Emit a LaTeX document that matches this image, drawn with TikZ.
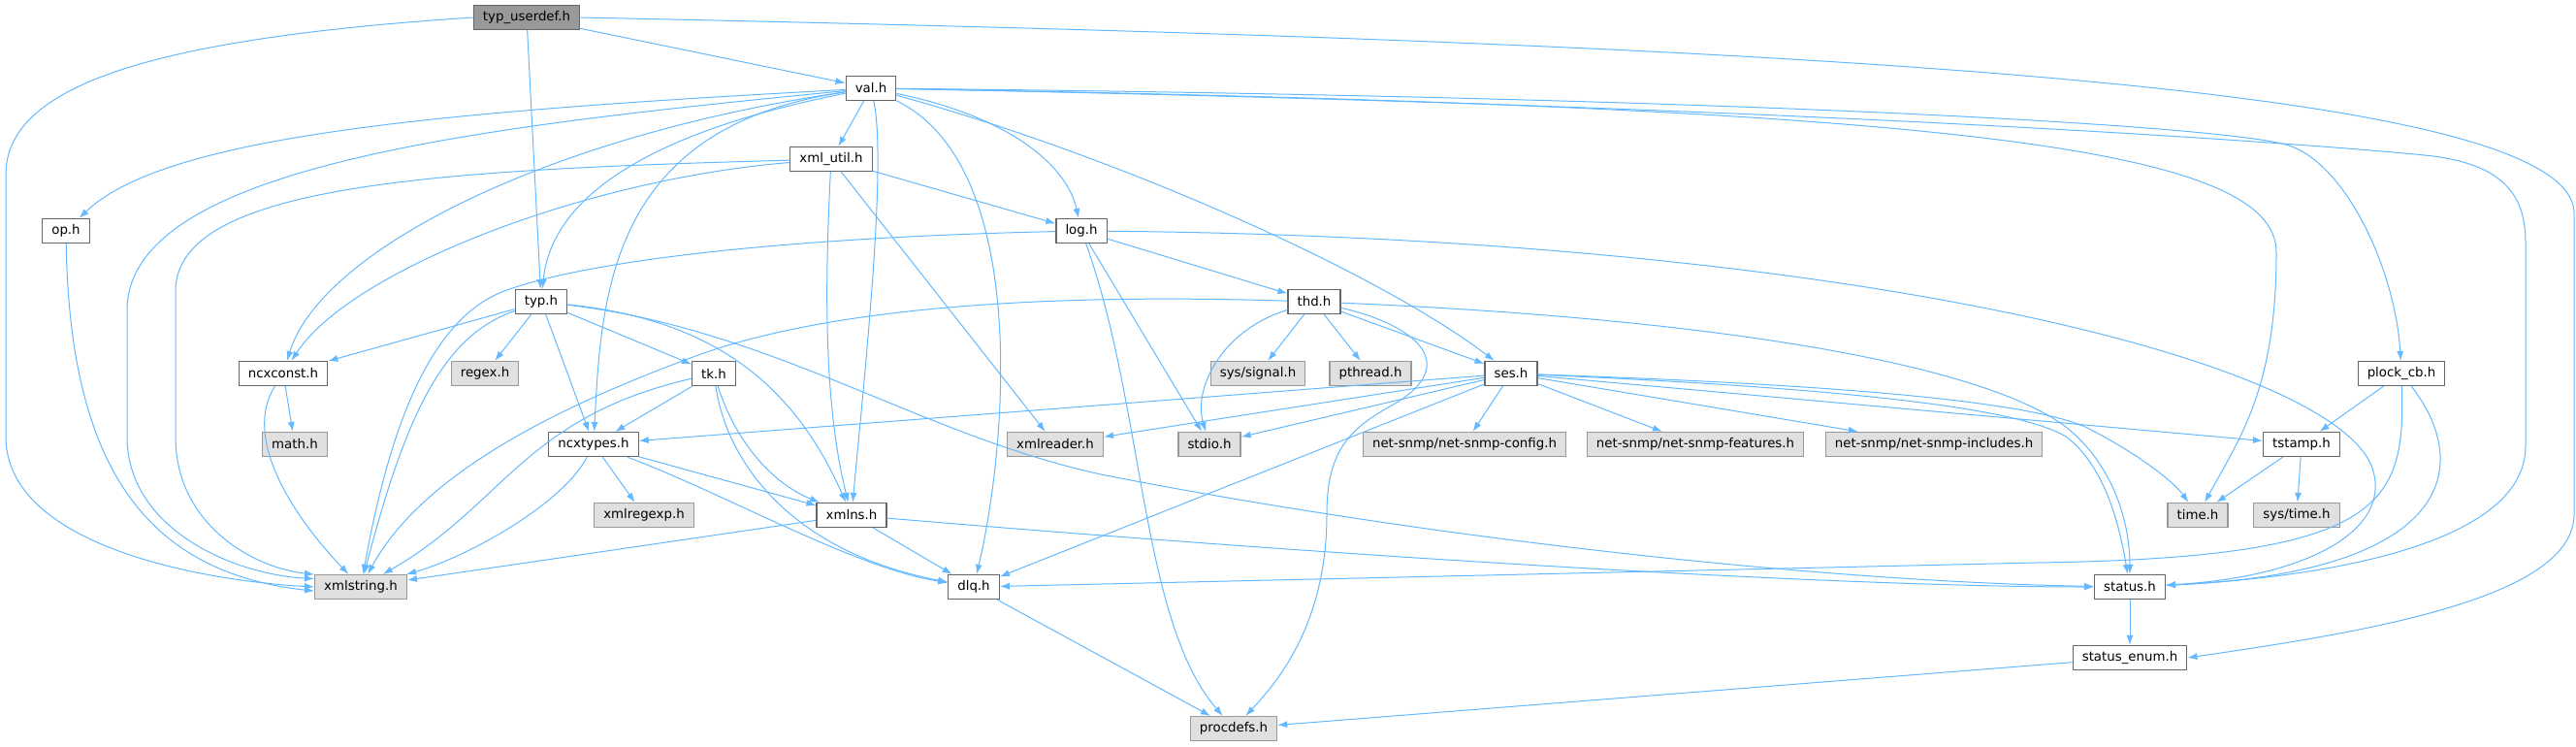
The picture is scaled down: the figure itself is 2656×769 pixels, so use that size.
\documentclass[tikz,border=0pt]{standalone}
\usepackage{fontspec}
\setmainfont{DejaVu Sans}
\usepackage{tikz}
\usetikzlibrary{arrows.meta}
\definecolor{edgeblue}{HTML}{63B8FF}
\definecolor{boxline}{HTML}{666666}
\definecolor{sysline}{HTML}{999999}
\definecolor{sysfill}{HTML}{E0E0E0}
\tikzstyle{hdr}=[rectangle,draw=boxline,fill=white,line width=0.9pt,minimum height=18.75pt,inner xsep=7.2pt,inner ysep=0pt]
\tikzstyle{syshdr}=[hdr,draw=sysline,fill=sysfill]
\tikzstyle{tophdr}=[hdr,fill=sysline]
\tikzstyle{edge} = [draw,edgeblue,line width=0.75pt,-{Latex[length=7.5pt,width=5.25pt]}]

\begin{document}
\begin{tikzpicture}[x=0.75pt,y=0.75pt]
        \useasboundingbox (0,0) rectangle (2656,-769);
        \node[tophdr] (userdef) at (543,-18) {typ\_userdef.h};
        \node[hdr] (val) at (898,-91) {val.h};
        \node[hdr] (xmlutil) at (857,-164) {xml\_util.h};
        \node[hdr] (op) at (68,-238) {op.h};
        \node[hdr] (logh) at (1115,-238) {log.h};
        \node[hdr] (typ) at (558,-311) {typ.h};
        \node[hdr] (thd) at (1355,-311) {thd.h};
        \node[hdr] (ncxconst) at (292,-385) {ncxconst.h};
        \node[syshdr] (regex) at (500,-385) {regex.h};
        \node[hdr] (tk) at (736,-385) {tk.h};
        \node[syshdr] (signal) at (1297,-385) {sys/signal.h};
        \node[syshdr] (pthread) at (1413,-385) {pthread.h};
        \node[hdr] (ses) at (1558,-385) {ses.h};
        \node[hdr] (plock) at (2476,-385) {plock\_cb.h};
        \node[syshdr] (math) at (304,-458) {math.h};
        \node[hdr] (ncxtypes) at (612,-458) {ncxtypes.h};
        \node[syshdr] (xmlreader) at (1088,-458) {xmlreader.h};
        \node[syshdr] (stdio) at (1247,-458) {stdio.h};
        \node[syshdr] (snmpconfig) at (1510,-458) {net-snmp/net-snmp-config.h};
        \node[syshdr] (snmpfeatures) at (1748,-458) {net-snmp/net-snmp-features.h};
        \node[syshdr] (snmpincludes) at (1994,-458) {net-snmp/net-snmp-includes.h};
        \node[hdr] (tstamp) at (2373,-458) {tstamp.h};
        \node[syshdr] (xmlregexp) at (664,-531) {xmlregexp.h};
        \node[hdr] (xmlns) at (878,-531) {xmlns.h};
        \node[syshdr] (time) at (2266,-531) {time.h};
        \node[syshdr] (systime) at (2368,-531) {sys/time.h};
        \node[syshdr] (xmlstring) at (372,-605) {xmlstring.h};
        \node[hdr] (dlq) at (1004,-605) {dlq.h};
        \node[hdr] (status) at (2196,-605) {status.h};
        \node[hdr] (statusenum) at (2196,-678) {status\_enum.h};
        \node[syshdr] (procdefs) at (1272,-751) {procdefs.h};
        % typ_userdef.h
        \draw[edge] (userdef) to (val);
        \draw[edge] (userdef) to (typ);
        \draw[edge] (userdef.west) .. controls (150,-40) and (6,-90) .. (6,-180) -- (6,-450) .. controls (6,-560) and (200,-598) .. (xmlstring.west);
        \draw[edge] (userdef.east) .. controls (1900,-45) and (2654,-90) .. (2654,-220) -- (2654,-530) .. controls (2654,-615) and (2450,-650) .. (statusenum.east);
        % val.h
        \draw[edge] (val) .. controls (450,-115) and (170,-140) .. (op);
        \draw[edge] (val) .. controls (500,-130) and (131,-170) .. (131,-320) -- (131,-450) .. controls (131,-545) and (240,-592) .. (xmlstring.170);
        \draw[edge] (val) .. controls (560,-140) and (330,-260) .. (ncxconst);
        \draw[edge] (val) .. controls (700,-130) and (570,-190) .. (typ);
        \draw[edge] (val) .. controls (630,-130) and (620,-300) .. (ncxtypes);
        \draw[edge] (val) to (xmlutil);
        \draw[edge] (val) .. controls (915,-170) and (890,-400) .. (xmlns);
        \draw[edge] (val) .. controls (1060,-170) and (1040,-450) .. (dlq);
        \draw[edge] (val) .. controls (1040,-120) and (1100,-170) .. (logh);
        \draw[edge] (val) .. controls (1150,-160) and (1420,-280) .. (ses);
        \draw[edge] (val) .. controls (2000,-110) and (2347,-150) .. (2347,-260) .. controls (2347,-400) and (2310,-450) .. (time);
        \draw[edge] (val) .. controls (1800,-100) and (2300,-130) .. (2360,-150) .. controls (2420,-170) and (2470,-280) .. (plock);
        \draw[edge] (val) .. controls (1900,-110) and (2400,-150) .. (2500,-160) .. controls (2580,-168) and (2604,-200) .. (2604,-250) -- (2604,-460) .. controls (2604,-560) and (2400,-595) .. (status);
        % xml_util.h
        \draw[edge] (xmlutil) .. controls (600,-185) and (360,-280) .. (ncxconst);
        \draw[edge] (xmlutil) .. controls (450,-175) and (181,-190) .. (181,-300) -- (181,-450) .. controls (181,-540) and (260,-585) .. (xmlstring.165);
        \draw[edge] (xmlutil) to (logh);
        \draw[edge] (xmlutil) .. controls (850,-300) and (850,-420) .. (xmlns);
        \draw[edge] (xmlutil) to (xmlreader);
        \draw[edge] (op) .. controls (72,-480) and (150,-590) .. (xmlstring.185);
        % log.h
        \draw[edge] (logh) .. controls (800,-245) and (600,-270) .. (520,-300) .. controls (440,-330) and (400,-450) .. (xmlstring);
        \draw[edge] (logh) to (thd);
        \draw[edge] (logh) to (stdio);
        \draw[edge] (logh) .. controls (1180,-420) and (1176,-640) .. (procdefs);
        \draw[edge] (logh) .. controls (1900,-245) and (2400,-370) .. (2445,-480) .. controls (2470,-545) and (2380,-595) .. (status);
        % thd.h
        \draw[edge] (thd) .. controls (1000,-300) and (820,-330) .. (720,-366) .. controls (600,-410) and (440,-480) .. (xmlstring);
        \draw[edge] (thd) to (signal);
        \draw[edge] (thd) to (pthread);
        \draw[edge] (thd) to (ses);
        \draw[edge] (thd) .. controls (1260,-340) and (1230,-400) .. (stdio);
        \draw[edge] (thd) .. controls (1460,-335) and (1505,-375) .. (1440,-415) .. controls (1395,-440) and (1368,-460) .. (1368,-530) .. controls (1368,-640) and (1320,-700) .. (procdefs);
        \draw[edge] (thd) .. controls (1800,-330) and (2050,-380) .. (2130,-440) .. controls (2180,-480) and (2196,-540) .. (status);
        % ses.h
        \draw[edge] (ses) to (ncxtypes);
        \draw[edge] (ses) to (xmlreader);
        \draw[edge] (ses) to (stdio);
        \draw[edge] (ses) to (dlq);
        \draw[edge] (ses) to (snmpconfig);
        \draw[edge] (ses) to (snmpfeatures);
        \draw[edge] (ses) to (snmpincludes);
        \draw[edge] (ses) to (tstamp);
        \draw[edge] (ses) .. controls (1850,-395) and (2080,-410) .. (2150,-440) .. controls (2200,-465) and (2240,-495) .. (time);
        \draw[edge] (ses) .. controls (1900,-400) and (2080,-420) .. (2130,-450) .. controls (2170,-480) and (2185,-540) .. (status);
        % plock_cb.h, tstamp.h, status.h
        \draw[edge] (plock) to (tstamp);
        \draw[edge] (plock) .. controls (2480,-520) and (2460,-575) .. (2100,-580) -- (dlq);
        \draw[edge] (plock) .. controls (2550,-480) and (2530,-590) .. (status);
        \draw[edge] (tstamp) to (time);
        \draw[edge] (tstamp) to (systime);
        \draw[edge] (status) to (statusenum);
        \draw[edge] (statusenum) to (procdefs);
        \draw[edge] (dlq) to (procdefs);
        % xmlns.h, ncxtypes.h, tk.h
        \draw[edge] (xmlns) to (dlq);
        \draw[edge] (xmlns) to (xmlstring);
        \draw[edge] (xmlns) .. controls (1400,-575) and (1900,-605) .. (status);
        \draw[edge] (ncxtypes) to (xmlregexp);
        \draw[edge] (ncxtypes) to (xmlns);
        \draw[edge] (ncxtypes) .. controls (750,-510) and (880,-585) .. (dlq);
        \draw[edge] (ncxtypes) .. controls (580,-520) and (480,-575) .. (xmlstring);
        \draw[edge] (tk) to (ncxtypes);
        \draw[edge] (tk) .. controls (760,-460) and (800,-500) .. (xmlns);
        \draw[edge] (tk) .. controls (750,-480) and (820,-570) .. (dlq);
        \draw[edge] (tk) .. controls (540,-430) and (520,-520) .. (xmlstring);
        % typ.h, ncxconst.h
        \draw[edge] (typ) to (ncxconst);
        \draw[edge] (typ) to (regex);
        \draw[edge] (typ) to (tk);
        \draw[edge] (typ) to (ncxtypes);
        \draw[edge] (typ) .. controls (740,-330) and (820,-400) .. (xmlns);
        \draw[edge] (typ) .. controls (460,-345) and (420,-420) .. (xmlstring);
        \draw[edge] (typ) .. controls (800,-340) and (950,-450) .. (1140,-490) .. controls (1500,-560) and (1900,-600) .. (status);
        \draw[edge] (ncxconst) to (math);
        \draw[edge] (ncxconst) .. controls (250,-450) and (300,-530) .. (xmlstring);
\end{tikzpicture}
\end{document}
